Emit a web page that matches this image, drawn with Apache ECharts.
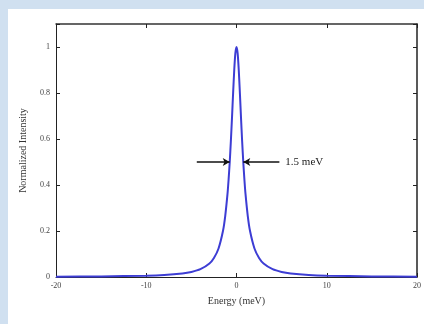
<!DOCTYPE html>
<html>
<head>
<meta charset="utf-8">
<script src="https://cdn.jsdelivr.net/npm/echarts@6/dist/echarts.min.js"></script>
<style>
html,body{margin:0;padding:0;background:#d0e0f0;}
#panel{position:absolute;left:8px;top:9px;width:416px;height:315px;background:#fff;}
#chart{position:absolute;left:0;top:0;width:424px;height:324px;}
</style>
</head>
<body>
<div id="panel"></div>
<div id="chart"></div>
<script>
const energy = [-20,-15,-10,-8,-6,-5,-4,-3,-2.5,-2,-1.5,-1.25,-1,-0.875,-0.75,-0.625,-0.5,-0.375,-0.25,-0.125,0,0.125,0.25,0.375,0.5,0.625,0.75,0.875,1,1.25,1.5,2,2.5,3,4,5,6,8,10,15,20];
const intensity = [0.0014,0.0025,0.0056,0.0087,0.0154,0.022,0.034,0.059,0.083,0.123,0.2,0.265,0.36,0.424,0.5,0.59,0.692,0.8,0.9,0.973,1,0.973,0.9,0.8,0.692,0.59,0.5,0.424,0.36,0.265,0.2,0.123,0.083,0.059,0.034,0.022,0.0154,0.0087,0.0056,0.0025,0.0014];
const xTicks = [-20,-10,0,10,20];
const yTicks = [0,0.2,0.4,0.6,0.8,1];
const fwhmText = '1.5 meV';
const halfMax = 0.5;
const arrowLeft = [-4.4, -0.75];
const arrowRight = [4.75, 0.75];

const chart = echarts.init(document.getElementById('chart'));
const font = 'Liberation Serif, DejaVu Serif, serif';
const tickCommon = {show:true, inside:true, length:4, lineStyle:{color:'#222'}};
chart.setOption({
  backgroundColor:'transparent',
  animation:false,
  grid:{left:56, right:6, top:24, bottom:47},
  xAxis:[{
    type:'value', min:xTicks[0], max:xTicks[xTicks.length-1], interval:10,
    axisLine:{onZero:false, lineStyle:{color:'#222', width:1}},
    axisTick:tickCommon,
    splitLine:{show:false},
    axisLabel:{color:'#444', fontFamily:font, fontSize:8, margin:5},
    name:'Energy (meV)', nameLocation:'middle', nameGap:19,
    nameTextStyle:{color:'#333', fontFamily:font, fontSize:10}
  },{
    type:'value', position:'top', min:xTicks[0], max:xTicks[xTicks.length-1], interval:10,
    axisLine:{onZero:false, lineStyle:{color:'#333', width:1.5}},
    axisTick:tickCommon, axisLabel:{show:false}, splitLine:{show:false}
  }],
  yAxis:[{
    type:'value', min:0, max:1.1, interval:0.2,
    axisLine:{show:true, onZero:false, lineStyle:{color:'#222', width:1}},
    axisTick:tickCommon,
    splitLine:{show:false},
    axisLabel:{color:'#444', fontFamily:font, fontSize:8, margin:6,
      formatter:v => yTicks.some(t=>Math.abs(t-v)<1e-6) ? String(+v.toFixed(1)) : ''},
    name:'Normalized Intensity', nameLocation:'middle', nameGap:28,
    nameTextStyle:{color:'#333', fontFamily:font, fontSize:10}
  },{
    type:'value', position:'right', min:0, max:1.1, interval:0.2,
    axisLine:{show:true, onZero:false, lineStyle:{color:'#222', width:1.5}},
    axisTick:tickCommon, axisLabel:{show:false}, splitLine:{show:false}
  }],
  series:[{
    type:'line',
    data: energy.map((e,i)=>[e, intensity[i]]),
    showSymbol:false,
    smooth:0.2,
    lineStyle:{color:'#3d3dd4', width:2},
    markLine:{
      silent:true,
      symbol:['none','arrow'],
      symbolSize:[6,7],
      lineStyle:{color:'#111', width:1.5, type:'solid'},
      label:{show:false},
      data:[
        [{coord:[arrowLeft[0], halfMax]},{coord:[arrowLeft[1], halfMax]}],
        [{coord:[arrowRight[1], halfMax], symbol:'arrow'},{coord:[arrowRight[0], halfMax], symbol:'none',
          label:{show:true, position:'end', formatter:fwhmText, color:'#222', fontFamily:font, fontSize:11, distance:6}}]
      ]
    }
  }]
});
</script>
</body>
</html>
